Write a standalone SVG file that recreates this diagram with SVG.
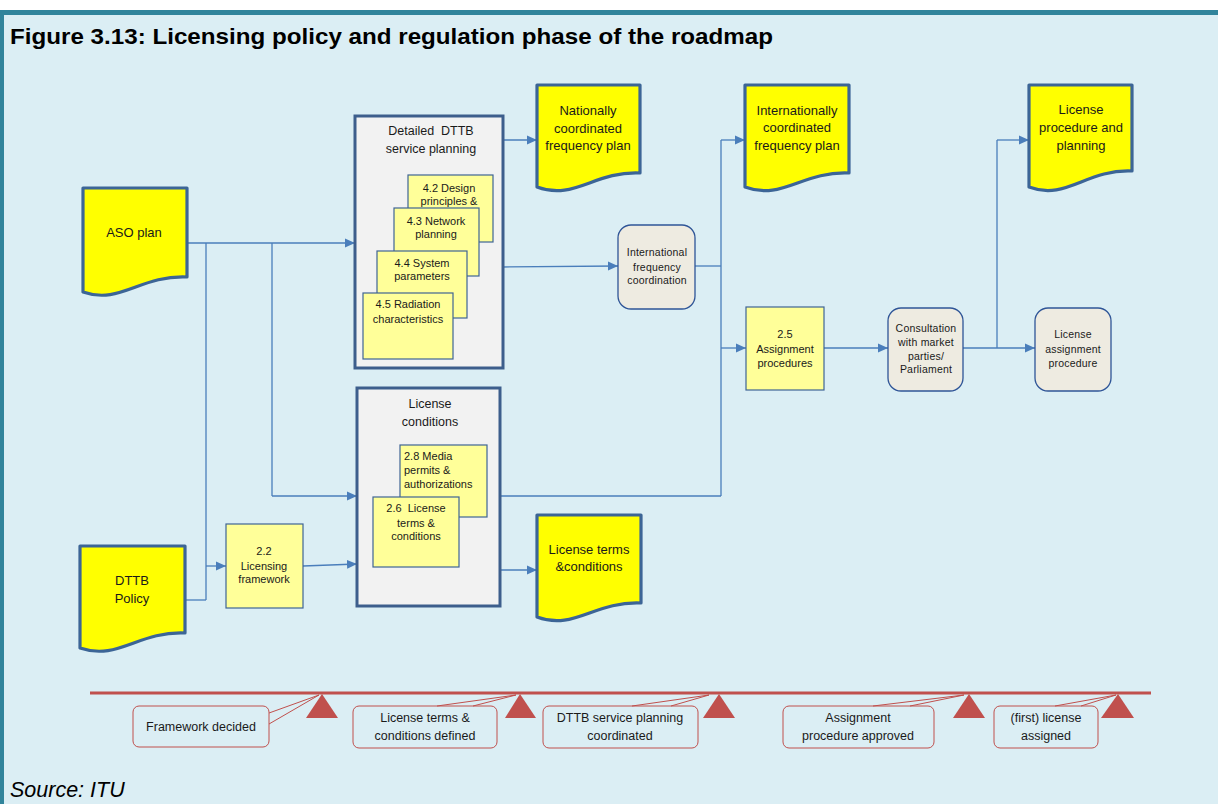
<svg xmlns="http://www.w3.org/2000/svg" width="1218" height="804" viewBox="0 0 1218 804">
<defs>
<marker id="arr" markerUnits="userSpaceOnUse" markerWidth="11" markerHeight="10" refX="10" refY="5" orient="auto"><path d="M0,0.5 L10,5 L0,9.5 z" fill="#4A7EBB"/></marker>
<style>
text{font-family:"Liberation Sans",Arial,sans-serif;fill:#1a1a1a;text-anchor:middle}
.doc{fill:#FFFF00;stroke:#3C6596;stroke-width:3.2;stroke-linejoin:round}
.cont{fill:#F2F2F2;stroke:#3D5E8C;stroke-width:3}
.sb{fill:#FFFF99;stroke:#3F6494;stroke-width:1.2}
.rr{fill:#EEEBE1;stroke:#2F5597;stroke-width:1.3}
.t13{font-size:13px}
.t12{font-size:12.5px}
.t11{font-size:11px}
.t10{font-size:10.5px;letter-spacing:0.2px}
.con line,.con polyline{stroke:#4A7EBB;stroke-width:1.3;fill:none}
.tl{fill:#C0504D}
.co{fill:#DBEEF4;stroke:#C0504D;stroke-width:1}
.tail{fill:none;stroke:#C0504D;stroke-width:1}
</style>
</defs>
<rect x="0" y="0" width="1218" height="804" fill="#FFFFFF"/>
<rect x="0" y="10" width="1218" height="794" fill="#DBEEF4"/>
<rect x="0" y="10" width="1218" height="5" fill="#31849B"/>
<rect x="0" y="10" width="4" height="794" fill="#31849B"/>
<text x="10" y="44" style="font-size:21.5px;font-weight:bold;text-anchor:start;fill:#000" textLength="763" lengthAdjust="spacingAndGlyphs">Figure 3.13: Licensing policy and regulation phase of the roadmap</text>

<g id="connectors" class="con">
<line x1="187" y1="243" x2="355" y2="243" marker-end="url(#arr)"/>
<line x1="206" y1="243" x2="206" y2="600"/>
<line x1="185" y1="600" x2="206" y2="600"/>
<line x1="206" y1="566" x2="226" y2="566" marker-end="url(#arr)"/>
<line x1="272" y1="243" x2="272" y2="496"/>
<line x1="272" y1="496" x2="357" y2="496" marker-end="url(#arr)"/>
<line x1="303" y1="566" x2="357" y2="564" marker-end="url(#arr)"/>
<line x1="503" y1="140" x2="537" y2="140" marker-end="url(#arr)"/>
<line x1="503" y1="267" x2="618" y2="266" marker-end="url(#arr)"/>
<line x1="695" y1="266" x2="721" y2="266"/>
<line x1="721" y1="140" x2="721" y2="496"/>
<line x1="721" y1="140" x2="745" y2="140" marker-end="url(#arr)"/>
<line x1="721" y1="348" x2="746" y2="348" marker-end="url(#arr)"/>
<line x1="500" y1="496" x2="721" y2="496"/>
<line x1="500" y1="570" x2="537" y2="570" marker-end="url(#arr)"/>
<line x1="824" y1="348" x2="888" y2="348" marker-end="url(#arr)"/>
<line x1="963" y1="348" x2="1035" y2="348" marker-end="url(#arr)"/>
<line x1="997" y1="348" x2="997" y2="140"/>
<line x1="997" y1="140" x2="1029" y2="140" marker-end="url(#arr)"/>
</g>

<g id="aso-plan">
<path class="doc" d="M83,188 H187 V277 C140,275 120,305 83,292 Z"/>
<text class="t13" x="134" y="237">ASO plan</text>
</g>
<g id="dttb-policy">
<path class="doc" d="M80,546 H185 V633 C138,631 118,661 80,648 Z"/>
<text class="t13" x="132" y="585">DTTB</text>
<text class="t13" x="132" y="603">Policy</text>
</g>
<g id="licensing-framework">
<rect class="sb" x="226" y="524" width="77" height="84"/>
<text class="t11" x="264" y="555">2.2</text>
<text class="t11" x="264" y="570">Licensing</text>
<text class="t11" x="264" y="583">framework</text>
</g>
<g id="service-planning">
<rect class="cont" x="355" y="116" width="148" height="252"/>
<text class="t12" x="431" y="135" xml:space="preserve">Detailed  DTTB</text>
<text class="t12" x="431" y="153">service planning</text>
<rect class="sb" x="408" y="175" width="85" height="67"/>
<text class="t11" x="449" y="192">4.2 Design</text>
<text class="t11" x="449" y="205">principles &amp;</text>
<rect class="sb" x="394" y="208" width="85" height="68"/>
<text class="t11" x="436" y="225">4.3 Network</text>
<text class="t11" x="436" y="238">planning</text>
<rect class="sb" x="377" y="251" width="90" height="67"/>
<text class="t11" x="422" y="267">4.4 System</text>
<text class="t11" x="422" y="280">parameters</text>
<rect class="sb" x="363" y="293" width="90" height="66"/>
<text class="t11" x="408" y="308">4.5 Radiation</text>
<text class="t11" x="408" y="323">characteristics</text>
</g>
<g id="license-conditions">
<rect class="cont" x="357" y="388" width="143" height="218"/>
<text class="t12" x="430" y="408">License</text>
<text class="t12" x="430" y="426">conditions</text>
<rect class="sb" x="400" y="445" width="87" height="72"/>
<text class="t11" x="404" y="460" style="text-anchor:start">2.8 Media</text>
<text class="t11" x="404" y="474" style="text-anchor:start">permits &amp;</text>
<text class="t11" x="404" y="488" style="text-anchor:start">authorizations</text>
<rect class="sb" x="373" y="497" width="86" height="70"/>
<text class="t11" x="416" y="512" xml:space="preserve">2.6  License</text>
<text class="t11" x="416" y="527">terms &amp;</text>
<text class="t11" x="416" y="540">conditions</text>
</g>
<g id="national-plan">
<path class="doc" d="M537,85 H640 V173 C594,171 574,201 537,187 Z"/>
<text class="t13" x="588" y="115">Nationally</text>
<text class="t13" x="588" y="133">coordinated</text>
<text class="t13" x="588" y="150">frequency plan</text>
</g>
<g id="international-plan">
<path class="doc" d="M745,85 H849 V173 C802,171 782,201 745,187 Z"/>
<text class="t13" x="797" y="115">Internationally</text>
<text class="t13" x="797" y="132">coordinated</text>
<text class="t13" x="797" y="150">frequency plan</text>
</g>
<g id="license-procedure-planning">
<path class="doc" d="M1029,85 H1132 V171 C1086,169 1066,201 1029,187 Z"/>
<text class="t13" x="1081" y="114">License</text>
<text class="t13" x="1081" y="132">procedure and</text>
<text class="t13" x="1081" y="150">planning</text>
</g>
<g id="license-terms-doc">
<path class="doc" d="M537,515 H641 V603 C594,601 574,631 537,617 Z"/>
<text class="t13" x="589" y="554">License terms</text>
<text class="t13" x="589" y="571">&amp;conditions</text>
</g>
<g id="intl-coordination">
<rect class="rr" x="618" y="225" width="77" height="84" rx="13"/>
<text class="t10" x="657" y="256">International</text>
<text class="t10" x="657" y="271">frequency</text>
<text class="t10" x="657" y="284">coordination</text>
</g>
<g id="assignment-procedures">
<rect class="sb" x="746" y="307" width="78" height="83"/>
<text class="t11" x="785" y="338">2.5</text>
<text class="t11" x="785" y="353">Assignment</text>
<text class="t11" x="785" y="367">procedures</text>
</g>
<g id="consultation">
<rect class="rr" x="888" y="308" width="75" height="83" rx="13"/>
<text class="t10" x="926" y="332">Consultation</text>
<text class="t10" x="926" y="346">with market</text>
<text class="t10" x="926" y="360">parties/</text>
<text class="t10" x="926" y="373">Parliament</text>
</g>
<g id="license-assignment">
<rect class="rr" x="1035" y="308" width="76" height="83" rx="13"/>
<text class="t10" x="1073" y="338">License</text>
<text class="t10" x="1073" y="353">assignment</text>
<text class="t10" x="1073" y="367">procedure</text>
</g>

<g id="timeline">
<line x1="90" y1="693" x2="1151" y2="693" stroke="#C0504D" stroke-width="3"/>
<polygon class="tl" points="322,694 306,718 338,718"/>
<polygon class="tl" points="520,694 505,718 536,718"/>
<polygon class="tl" points="719,694 703,718 735,718"/>
<polygon class="tl" points="969,694 953,718 985,718"/>
<polygon class="tl" points="1118,694 1101,718 1134,718"/>
</g>
<g id="m1">
<rect class="co" x="133" y="706" width="136" height="41" rx="6"/>
<polyline class="tail" points="269,713 319,695 269,724"/>
<text class="t12" x="201" y="731">Framework decided</text>
</g>
<g id="m2">
<rect class="co" x="353" y="706" width="144" height="42" rx="6"/>
<polyline class="tail" points="437,706 516,695 473,706"/>
<text class="t12" x="425" y="722">License terms &amp;</text>
<text class="t12" x="425" y="740">conditions defined</text>
</g>
<g id="m3">
<rect class="co" x="543" y="706" width="155" height="42" rx="6"/>
<polyline class="tail" points="632,706 709,695 671,706"/>
<text class="t12" x="620" y="722">DTTB service planning</text>
<text class="t12" x="620" y="740">coordinated</text>
</g>
<g id="m4">
<rect class="co" x="783" y="706" width="151" height="42" rx="6"/>
<polyline class="tail" points="873,706 964,695 910,706"/>
<text class="t12" x="858" y="722">Assignment</text>
<text class="t12" x="858" y="740">procedure approved</text>
</g>
<g id="m5">
<rect class="co" x="994" y="706" width="104" height="42" rx="6"/>
<polyline class="tail" points="1055,706 1116,695 1081,706"/>
<text class="t12" x="1046" y="722">(first) license</text>
<text class="t12" x="1046" y="740">assigned</text>
</g>
<text x="10" y="797" style="font-size:21.5px;font-style:italic;text-anchor:start;fill:#000">Source: ITU</text>
</svg>
